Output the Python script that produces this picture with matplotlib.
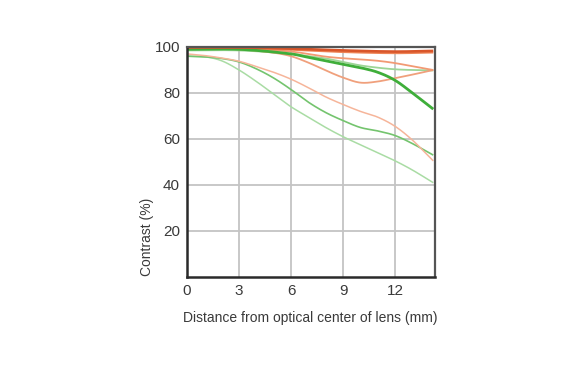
import matplotlib
matplotlib.use("Agg")
import matplotlib.pyplot as plt
import numpy as np

# ---- data ----
x_ticks = [0, 3, 6, 9, 12]
y_ticks = [20, 40, 60, 80, 100]

x_top = [0, 3, 6, 9, 12, 14.2]
orange_top = [99.8, 99.8, 99.3, 98.5, 98.0, 98.3]
orange_top2 = [99.6, 99.5, 98.8, 97.8, 97.3, 97.6]

x_o2 = [0, 3, 6, 8, 9, 10, 11, 12, 13, 14.2]
orange_mid = [99.5, 99.3, 98.0, 95.8, 95.1, 94.6, 94.0, 93.0, 91.6, 90.0]

x_o3 = [0, 3, 5, 6, 7, 8, 9, 10, 11, 12, 13, 14.2]
orange_dip = [99.5, 99.0, 97.5, 96.0, 93.2, 89.8, 86.7, 84.5, 85.0, 86.5, 88.0, 90.0]

x_main = [0, 1, 2, 3, 4, 5, 6, 7, 8, 9, 10, 11, 12, 13, 14.2]
orange_low = [97.0, 96.3, 95.2, 93.8, 91.5, 89.0, 86.0, 82.3, 78.3, 75.0, 72.0, 69.5, 65.5, 59.5, 50.5]
green_mid = [96.0, 95.7, 95.0, 93.5, 90.5, 86.5, 81.5, 76.0, 71.5, 68.0, 65.0, 63.5, 61.5, 58.0, 53.0]
green_low = [96.0, 95.8, 94.0, 90.0, 85.0, 79.5, 74.0, 69.5, 65.0, 61.0, 57.5, 54.0, 50.5, 46.5, 41.0]

x_g = [0, 3, 6, 7, 8, 9, 10, 11, 12, 13, 14.2]
green_thick = [99.0, 99.0, 97.0, 95.5, 94.0, 92.5, 91.0, 89.0, 85.5, 80.0, 73.0]
green_light = [98.5, 98.5, 97.0, 96.0, 95.0, 93.5, 92.0, 91.0, 90.3, 90.0, 89.8]


def smooth(xs, ys, n=300):
    xs = np.asarray(xs, float)
    ys = np.asarray(ys, float)
    xx = np.linspace(xs[0], xs[-1], n)
    out = []
    for t in xx:
        i = min(np.searchsorted(xs, t, side="right") - 1, len(xs) - 2)
        x0, x1 = xs[i], xs[i + 1]
        y0, y1 = ys[i], ys[i + 1]
        m0 = (ys[i + 1] - ys[i - 1]) / (xs[i + 1] - xs[i - 1]) if i > 0 else (y1 - y0) / (x1 - x0)
        m1 = (ys[i + 2] - ys[i]) / (xs[i + 2] - xs[i]) if i + 2 < len(xs) else (y1 - y0) / (x1 - x0)
        h = x1 - x0
        s = (t - x0) / h
        h00 = 2 * s**3 - 3 * s**2 + 1
        h10 = s**3 - 2 * s**2 + s
        h01 = -2 * s**3 + 3 * s**2
        h11 = s**3 - s**2
        out.append(h00 * y0 + h10 * h * m0 + h01 * y1 + h11 * h * m1)
    return xx, np.array(out)


fig = plt.figure(figsize=(5.7, 3.65), dpi=100)
ax = fig.add_axes([187 / 570, 88 / 365, (435 - 187) / 570, (277 - 47) / 365])

ax.set_xlim(0, 14.3)
ax.set_ylim(0, 100)
ax.set_xticks(x_ticks)
ax.set_yticks(y_ticks)
ax.grid(True, color="#c4c4c4", linewidth=1.3)
ax.set_axisbelow(True)
ax.tick_params(length=0, labelsize=11, colors="#3a3a3a", pad=5)
for lab in ax.get_xticklabels() + ax.get_yticklabels():
    lab.set_fontfamily("Liberation Sans")
for side in ["left", "bottom"]:
    ax.spines[side].set_color("#2a2a2a")
    ax.spines[side].set_linewidth(1.8)
for side in ["top", "right"]:
    ax.spines[side].set_color("#555555")
    ax.spines[side].set_linewidth(1.6)

lines = [
    (x_main, green_low, "#a9dca4", 1.1),
    (x_main, green_mid, "#74c46e", 1.2),
    (x_main, orange_low, "#f6b59a", 1.1),
    (x_g, green_light, "#9dd596", 1.3),
    (x_o3, orange_dip, "#f0a07c", 1.3),
    (x_o2, orange_mid, "#f29a74", 1.3),
    (x_top, orange_top2, "#ee8456", 1.4),
    (x_g, green_thick, "#3fae3a", 2.0),
    (x_top, orange_top, "#d9562a", 1.9),
]
for xs, ys, c, lw in lines:
    sx, sy = smooth(xs, ys)
    ax.plot(sx, sy, color=c, lw=lw, solid_capstyle="butt", clip_on=False)

fig.text(310 / 570, 1 - 318 / 365, "Distance from optical center of lens (mm)",
         ha="center", va="center", fontsize=10, color="#3a3a3a", family="Liberation Sans")
fig.text(147 / 570, 1 - 237 / 365, "Contrast (%)", rotation=90,
         ha="center", va="center", fontsize=10, color="#3a3a3a", family="Liberation Sans")

fig.savefig("out.png", dpi=100)
